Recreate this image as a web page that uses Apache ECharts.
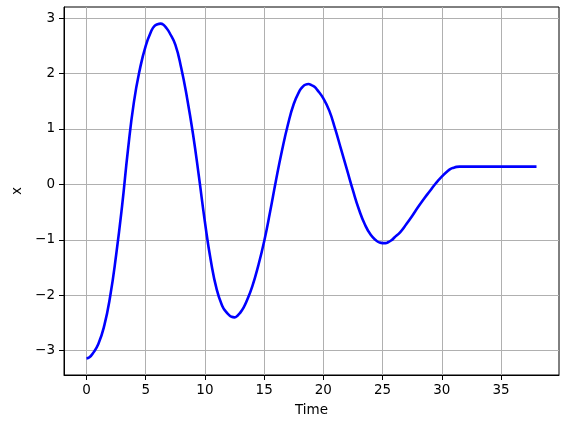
<!DOCTYPE html>
<html>
<head>
<meta charset="utf-8">
<script src="https://cdn.jsdelivr.net/npm/echarts@6/dist/echarts.min.js"></script>
<style>
  html, body { margin: 0; padding: 0; background: #fff; }
  #main { width: 571px; height: 422px; }
</style>
</head>
<body>
<div id="main"></div>
<script>
  // time samples (denser near the turning points)
  var time = [
    0, 0.25, 0.5, 1, 1.5, 2, 2.5, 3, 3.5, 4, 4.5,
    5, 5.5, 5.75, 6, 6.25, 6.5, 6.75, 7, 7.5, 8, 8.5, 9, 9.5,
    10, 10.5, 11, 11.5, 11.75, 12, 12.25, 12.5, 12.75, 13, 13.25, 13.5, 14, 14.5,
    15, 15.5, 16, 16.5, 17, 17.5, 18, 18.25, 18.5, 18.75, 19, 19.25, 19.5,
    20, 20.5, 21, 21.5, 22, 22.5, 23, 23.5, 24, 24.5, 24.75,
    25, 25.25, 25.5, 25.75, 26, 26.5, 27, 27.5, 28, 28.5, 29, 29.5,
    30, 30.5, 30.75, 31, 31.25, 31.5, 32, 33, 34, 35, 36, 37, 38
  ];
  // x value at each time
  var xVal = [
    -3.14, -3.12, -3.06, -2.88, -2.55, -2.02, -1.28, -0.40, 0.62, 1.48, 2.07,
    2.50, 2.78, 2.86, 2.89, 2.90, 2.88, 2.82, 2.74, 2.52, 2.10, 1.55, 0.90, 0.13,
    -0.68, -1.38, -1.90, -2.21, -2.29, -2.35, -2.39, -2.40, -2.37, -2.31, -2.23, -2.12, -1.84, -1.47,
    -1.03, -0.50, 0.07, 0.60, 1.07, 1.45, 1.69, 1.76, 1.80, 1.81, 1.79, 1.76, 1.70,
    1.55, 1.33, 1.00, 0.63, 0.26, -0.11, -0.45, -0.72, -0.91, -1.02, -1.05,
    -1.06, -1.06, -1.04, -1.01, -0.96, -0.86, -0.72, -0.57, -0.41, -0.26, -0.12, 0.02,
    0.14, 0.24, 0.28, 0.30, 0.315, 0.32, 0.32, 0.32, 0.32, 0.32, 0.32, 0.32, 0.32
  ];
  var xTicks = [0, 5, 10, 15, 20, 25, 30, 35];
  var yTicks = [-3, -2, -1, 0, 1, 2, 3];

  var points = time.map(function (t, i) { return [t, xVal[i]]; });

  var font = 'DejaVu Sans';
  var chart = echarts.init(document.getElementById('main'));
  chart.setOption({
    animation: false,
    grid: {
      left: 64, top: 7, width: 495, height: 369,
      show: true, borderColor: '#000', borderWidth: 1, backgroundColor: 'transparent'
    },
    xAxis: {
      type: 'value',
      min: -1.9, max: 39.9,
      name: 'Time', nameLocation: 'middle', nameGap: 28,
      nameTextStyle: { color: '#000', fontFamily: font, fontSize: 13.5 },
      axisLine: { show: true, onZero: false, lineStyle: { color: '#000', width: 1 } },
      axisTick: { show: true, inside: false, length: 5, customValues: xTicks, lineStyle: { color: '#000', width: 1 } },
      axisLabel: { customValues: xTicks, margin: 8, color: '#000', fontFamily: font, fontSize: 13.5 },
      splitLine: { show: true, lineStyle: { color: '#b0b0b0', width: 1 } }
    },
    yAxis: {
      type: 'value',
      min: -3.44, max: 3.2,
      name: 'x', nameLocation: 'middle', nameGap: 34,
      nameTextStyle: { color: '#000', fontFamily: font, fontSize: 13.5 },
      axisLine: { show: true, onZero: false, lineStyle: { color: '#000', width: 1 } },
      axisTick: { show: true, inside: false, length: 5, customValues: yTicks, lineStyle: { color: '#000', width: 1 } },
      axisLabel: {
        customValues: yTicks, margin: 9, color: '#000', fontFamily: font, fontSize: 13.5,
        formatter: function (v) { return String(v).replace('-', '\u2212'); }
      },
      splitLine: { show: true, lineStyle: { color: '#b0b0b0', width: 1 } }
    },
    series: [{
      type: 'line',
      data: points,
      showSymbol: false,
      smooth: 0.5,
      lineStyle: { color: '#0000ff', width: 2.6 }
    }]
  });
</script>
</body>
</html>
